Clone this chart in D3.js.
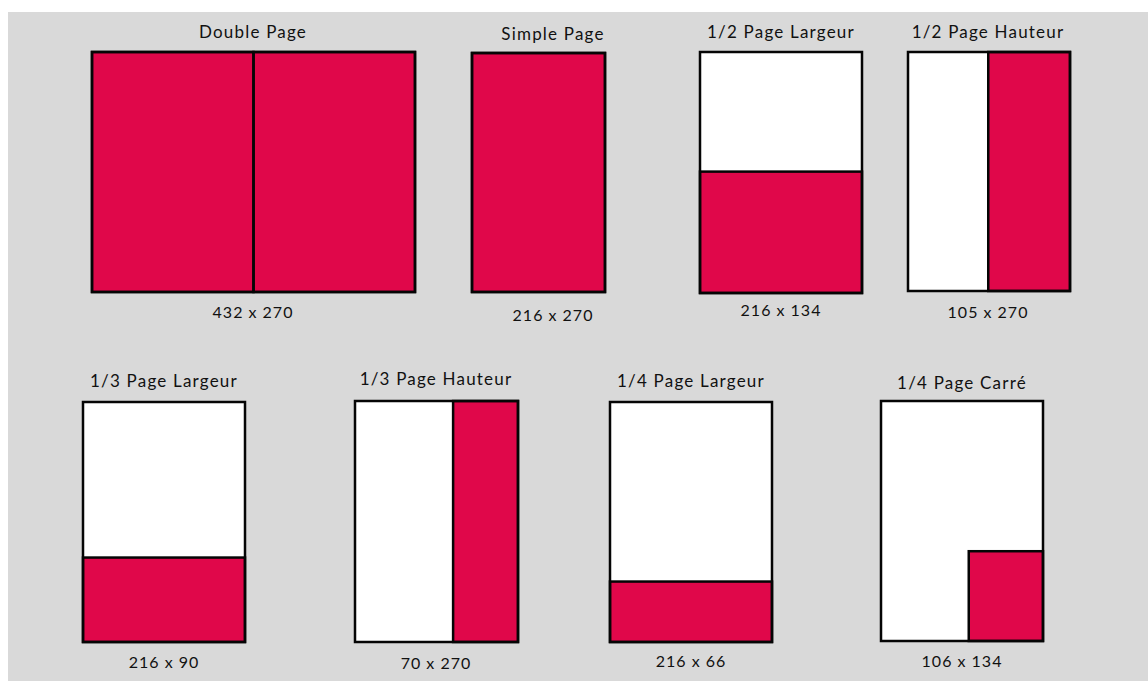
<!DOCTYPE html>
<html>
<head>
<meta charset="utf-8">
<script src="https://cdn.jsdelivr.net/npm/d3@7"></script>
<style>
  body { margin: 0; background: #fff; }
  svg { display: block; }
  text { font-family: Lato, "Noto Sans", sans-serif; fill: #111; }
</style>
</head>
<body>
<div id="canvas"></div>
<script>
// formats and their sizes (mm)
const formats = ["Double Page", "Simple Page", "1/2 Page Largeur", "1/2 Page Hauteur",
                 "1/3 Page Largeur", "1/3 Page Hauteur", "1/4 Page Largeur", "1/4 Page Carré"];
const sizeLabels = ["432 x 270", "216 x 270", "216 x 134", "105 x 270",
                    "216 x 90", "70 x 270", "216 x 66", "106 x 134"];
const pageWidthMm = [432, 216, 216, 216, 216, 216, 216, 216];
const pageHeightMm = [270, 270, 270, 270, 270, 270, 270, 270];
// ad area as drawn in the picture (mm), anchored bottom right
const areaWidthMm = [432, 216, 216, 109, 216, 86, 216, 99];
const areaHeightMm = [270, 270, 136, 270, 95, 270, 68, 101];
const singlePageMm = 216;

const width = 1148;
const height = 681;
const red = "#e0074a";

// panel frames (px) and text anchors
const layout = [
  {x: 92,  y: 52,  w: 323, h: 240, tx: 253, ty: 38,  ly: 318},
  {x: 472, y: 53,  w: 133, h: 239, tx: 553, ty: 40,  ly: 321},
  {x: 700, y: 52,  w: 162, h: 241, tx: 781, ty: 38,  ly: 316},
  {x: 908, y: 52,  w: 162, h: 239, tx: 988, ty: 38,  ly: 318},
  {x: 83,  y: 402, w: 162, h: 240, tx: 164, ty: 387, ly: 668},
  {x: 355, y: 401, w: 163, h: 241, tx: 436, ty: 385, ly: 669},
  {x: 610, y: 402, w: 162, h: 240, tx: 691, ty: 387, ly: 667},
  {x: 881, y: 401, w: 162, h: 240, tx: 962, ty: 389, ly: 667}
];

const svg = d3.select("#canvas").append("svg")
    .attr("width", width)
    .attr("height", height);

svg.append("rect")
    .attr("x", 8).attr("y", 12)
    .attr("width", width - 8).attr("height", height - 12)
    .attr("fill", "#d9d9d9");

formats.forEach((name, i) => {
    const box = layout[i];
    const x = d3.scaleLinear().domain([0, pageWidthMm[i]]).range([box.x, box.x + box.w]);
    const y = d3.scaleLinear().domain([0, pageHeightMm[i]]).range([box.y, box.y + box.h]);
    const g = svg.append("g");

    // pages
    const pages = d3.range(0, pageWidthMm[i], singlePageMm);
    g.selectAll("rect.page").data(pages).enter().append("rect")
        .attr("class", "page")
        .attr("x", d => x(d))
        .attr("y", y(0))
        .attr("width", x(singlePageMm) - x(0))
        .attr("height", y(pageHeightMm[i]) - y(0))
        .attr("fill", "#fff");

    // ad area
    g.append("rect")
        .attr("x", x(pageWidthMm[i] - areaWidthMm[i]))
        .attr("y", y(pageHeightMm[i] - areaHeightMm[i]))
        .attr("width", x(areaWidthMm[i]) - x(0))
        .attr("height", y(areaHeightMm[i]) - y(0))
        .attr("fill", red)
        .attr("stroke", "#050505")
        .attr("stroke-width", 2.5);

    // outlines on top
    g.selectAll("rect.outline").data(pages).enter().append("rect")
        .attr("class", "outline")
        .attr("x", d => x(d))
        .attr("y", y(0))
        .attr("width", x(singlePageMm) - x(0))
        .attr("height", y(pageHeightMm[i]) - y(0))
        .attr("fill", "none")
        .attr("stroke", "#050505")
        .attr("stroke-width", 2.5);

    g.append("text")
        .attr("x", box.tx).attr("y", box.ty)
        .attr("text-anchor", "middle")
        .style("font-size", "17px")
        .style("letter-spacing", "1.2px")
        .text(name);

    g.append("text")
        .attr("x", box.tx).attr("y", box.ly)
        .attr("text-anchor", "middle")
        .style("font-size", "16px")
        .style("letter-spacing", "1px")
        .text(sizeLabels[i]);
});
</script>
</body>
</html>
